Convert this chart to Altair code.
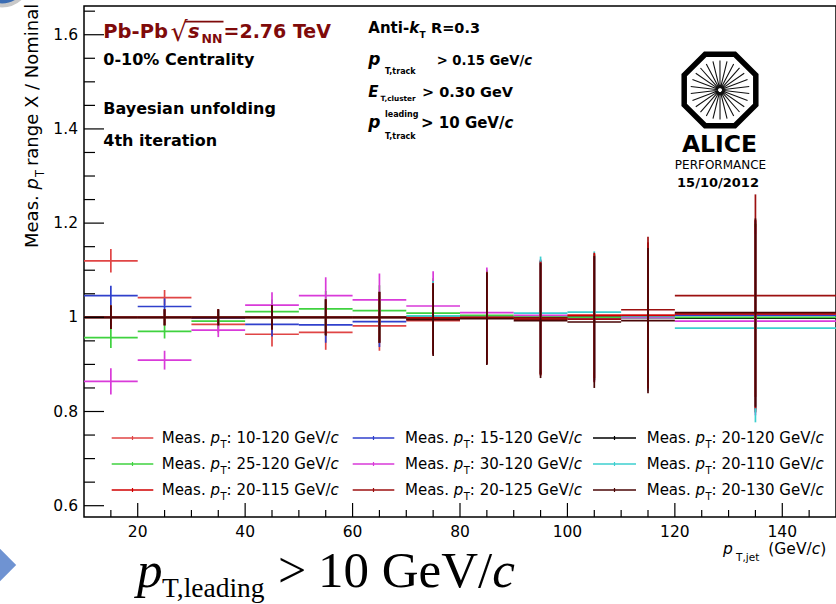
import math
import altair as alt
import pandas as pd

# ---------------- data ----------------
bin_centers = [15, 25, 35, 45, 55, 65, 75, 85, 95, 105, 115, 135]
bin_half_widths = [5, 5, 5, 5, 5, 5, 5, 5, 5, 5, 5, 15]

series_labels = ["10-120", "15-120", "20-120", "25-120", "30-120",
                 "20-110", "20-115", "20-125", "20-130"]
series_colors = ["#e04545", "#3040cc", "#000000", "#3fd23f", "#d93ad9",
                 "#3ccfcf", "#d00000", "#9c1010", "#4a0606"]

ratio_10_120 = [1.120, 1.042, 0.985, 0.964, 0.968, 0.982, 0.993, 0.998, 0.998, 1.004, 1.004, 1.007]
ratio_15_120 = [1.046, 1.023, 0.998, 0.985, 0.984, 0.991, 0.996, 0.998, 1.000, 1.000, 1.000, 1.004]
ratio_20_120 = [1.000, 1.000, 1.000, 1.000, 1.000, 1.000, 1.000, 1.000, 1.000, 1.000, 1.000, 0.998]
ratio_25_120 = [0.957, 0.970, 0.992, 1.012, 1.018, 1.014, 1.009, 1.004, 1.002, 1.000, 1.000, 1.000]
ratio_30_120 = [0.864, 0.909, 0.973, 1.026, 1.046, 1.037, 1.024, 1.010, 1.004, 0.996, 1.000, 0.992]
ratio_20_110 = [1.000, 1.000, 1.000, 1.000, 1.000, 1.000, 1.003, 1.000, 1.009, 1.011, 1.002, 0.977]
ratio_20_115 = [1.000, 1.000, 1.000, 1.000, 1.000, 1.000, 0.999, 1.000, 0.998, 1.004, 1.004, 1.007]
ratio_20_125 = [1.000, 1.000, 1.000, 1.000, 1.000, 1.000, 0.997, 0.998, 0.996, 0.996, 1.016, 1.046]
ratio_20_130 = [1.000, 1.000, 1.000, 1.000, 1.000, 1.000, 0.995, 0.997, 0.993, 0.990, 0.993, 1.010]

err_10_120 = [0.025, 0.016, 0.017, 0.026, 0.037, 0.053, 0.073, 0.097, 0.120, 0.133, 0.155, 0.200]
err_15_120 = [0.021, 0.017, 0.017, 0.026, 0.038, 0.054, 0.074, 0.097, 0.120, 0.133, 0.155, 0.200]
err_20_120 = [0.025, 0.017, 0.017, 0.026, 0.039, 0.054, 0.074, 0.097, 0.120, 0.134, 0.155, 0.200]
err_25_120 = [0.022, 0.015, 0.016, 0.026, 0.038, 0.054, 0.074, 0.097, 0.120, 0.133, 0.155, 0.200]
err_30_120 = [0.028, 0.020, 0.015, 0.027, 0.039, 0.056, 0.074, 0.096, 0.119, 0.133, 0.155, 0.200]
err_20_110 = [0.025, 0.017, 0.017, 0.026, 0.038, 0.054, 0.074, 0.097, 0.120, 0.129, 0.155, 0.200]
err_20_115 = [0.025, 0.017, 0.017, 0.026, 0.038, 0.054, 0.074, 0.097, 0.120, 0.133, 0.155, 0.200]
err_20_125 = [0.025, 0.017, 0.017, 0.026, 0.038, 0.054, 0.075, 0.097, 0.120, 0.134, 0.155, 0.215]
err_20_130 = [0.025, 0.017, 0.017, 0.026, 0.038, 0.054, 0.077, 0.098, 0.122, 0.140, 0.154, 0.200]

ratios = [ratio_10_120, ratio_15_120, ratio_20_120, ratio_25_120, ratio_30_120,
          ratio_20_110, ratio_20_115, ratio_20_125, ratio_20_130]
errors = [err_10_120, err_15_120, err_20_120, err_25_120, err_30_120,
          err_20_110, err_20_115, err_20_125, err_20_130]

x_tick_labels = [20, 40, 60, 80, 100, 120, 140]
y_tick_labels = [0.6, 0.8, 1.0, 1.2, 1.4, 1.6]

# ---------------- layout constants ----------------
LEFT, TOP = 84, 6
W, H = 752, 511
X_DOM = [10, 150]
Y_DOM = [0.576, 1.661]
FONT = "DejaVu Sans"

# ---------------- error-bar table ----------------
rows = []
order = 0
for name, vals, errs in zip(series_labels, ratios, errors):
    for c, hw, v, e in zip(bin_centers, bin_half_widths, vals, errs):
        rows.append(dict(series=name, x=c - hw, x2=c + hw, y=v, y2=v, ord=order)); order += 1
        rows.append(dict(series=name, x=c, x2=c, y=v - e, y2=v + e, ord=order)); order += 1
df = pd.DataFrame(rows)

xscale = alt.Scale(domain=X_DOM, nice=False, zero=False)
yscale = alt.Scale(domain=Y_DOM, nice=False, zero=False)

bars = alt.Chart(df).mark_rule(strokeWidth=1.7).encode(
    x=alt.X("x:Q", scale=xscale, axis=None),
    x2="x2:Q",
    y=alt.Y("y:Q", scale=yscale, axis=None),
    y2="y2:Q",
    color=alt.Color("series:N", scale=alt.Scale(domain=series_labels, range=series_colors), legend=None),
    order=alt.Order("ord:Q"),
)

# ---------------- inward ticks and tick labels ----------------
y_minor = [round(0.6 + 0.05 * i, 2) for i in range(22) if i % 4 != 0]
x_minor = [15 + 5 * i for i in range(27) if (15 + 5 * i) % 20 != 0]
ytm = alt.Chart(pd.DataFrame({"v": y_tick_labels})).mark_rule(color="black", strokeWidth=1.2).encode(
    x=alt.value(0), x2=alt.value(20), y=alt.Y("v:Q", axis=None))
ytn = alt.Chart(pd.DataFrame({"v": y_minor})).mark_rule(color="black", strokeWidth=1.2).encode(
    x=alt.value(0), x2=alt.value(11), y=alt.Y("v:Q", axis=None))
xtm = alt.Chart(pd.DataFrame({"v": x_tick_labels})).mark_rule(color="black", strokeWidth=1.2).encode(
    y=alt.value(H), y2=alt.value(H - 14), x=alt.X("v:Q", axis=None))
xtn = alt.Chart(pd.DataFrame({"v": x_minor})).mark_rule(color="black", strokeWidth=1.2).encode(
    y=alt.value(H), y2=alt.value(H - 7), x=alt.X("v:Q", axis=None))

ylab_df = pd.DataFrame({"v": y_tick_labels, "lab": ["{:g}".format(v) for v in y_tick_labels]})
xlab_df = pd.DataFrame({"v": x_tick_labels, "lab": [str(v) for v in x_tick_labels]})
ylabs = alt.Chart(ylab_df).mark_text(align="right", baseline="middle", font=FONT, fontSize=15.5,
                                     color="black").encode(
    x=alt.value(-6), y=alt.Y("v:Q", axis=None), text="lab:N")
xlabs = alt.Chart(xlab_df).mark_text(align="center", baseline="alphabetic", font=FONT, fontSize=15.5,
                                     color="black").encode(
    y=alt.value(H + 19.5), x=alt.X("v:Q", axis=None), text="lab:N")

# ---------------- text helpers ----------------
W_REG = {' ': .318, '%': .950, '(': .390, ')': .390, ',': .318, '-': .361, '.': .318, '/': .337,
         ':': .337, '=': .838, '>': .838, 'A': .684, 'C': .698, 'E': .632, 'F': .575, 'G': .775,
         'I': .295, 'L': .557, 'M': .863, 'N': .748, 'O': .787, 'P': .603, 'R': .695, 'T': .611,
         'V': .684, 'X': .685, 'a': .613, 'b': .635, 'c': .550, 'd': .635, 'e': .615, 'f': .352,
         'g': .635, 'h': .634, 'i': .278, 'j': .278, 'k': .579, 'l': .278, 'm': .974, 'n': .634,
         'o': .612, 'p': .635, 'r': .411, 's': .521, 't': .392, 'u': .634, 'y': .592}
W_BOLD = {' ': .348, '%': 1.002, '-': .415, '.': .380, '/': .365, ':': .400, '=': .838, '>': .838,
          ',': .380, 'A': .774, 'B': .762, 'C': .734, 'E': .683, 'G': .821, 'N': .837, 'P': .733,
          'R': .770, 'T': .682, 'V': .774, 'a': .675, 'b': .716, 'c': .593, 'd': .716, 'e': .678,
          'f': .435, 'g': .716, 'h': .712, 'i': .343, 'k': .665, 'l': .343, 'n': .712, 'o': .687,
          'r': .493, 's': .595, 't': .478, 'u': .712, 'y': .652}
for d in "0123456789":
    W_REG[d] = .636
    W_BOLD[d] = .696


def tw(s, size, bold=False):
    tbl = W_BOLD if bold else W_REG
    return sum(tbl.get(ch, 0.6) for ch in s) * size


segs = []


def add(x, y, t, size, bold=False, italic=False, color="#000000", font=FONT, angle=0, align="left"):
    segs.append(dict(px=x - LEFT, py=y - TOP, t=t, size=size, fw="bold" if bold else "normal",
                     fs="italic" if italic else "normal", col=color, font=font, ang=angle, al=align))


prules = []


def prule(x1, y1, x2, y2, col="#000000", sw=1.5):
    prules.append(dict(x1=x1 - LEFT, y1=y1 - TOP, x2=x2 - LEFT, y2=y2 - TOP, col=col, sw=sw))


# ---- left annotation block ----
DR = "#7f0a0a"
add(103.3, 37.7, "Pb-Pb", 19.5, bold=True, color=DR)
add(170.5, 41.0, "\u221a", 27, color=DR)
prule(185.0, 21.6, 223.5, 21.6, DR, 1.6)
add(188.0, 37.7, "s", 19.5, bold=True, italic=True, color=DR)
add(201.5, 43.0, "NN", 12.5, bold=True, color=DR)
add(223.5, 37.7, "=2.76 TeV", 19, bold=True, color=DR)
add(103.3, 65.0, "0-10% Centrality", 16, bold=True)
add(103.3, 114.3, "Bayesian unfolding", 16, bold=True)
add(103.3, 146.0, "4th iteration", 16, bold=True)

# ---- right annotation block ----
add(368.3, 33.3, "Anti-", 15, bold=True)
add(368.3 + tw("Anti-", 15, True), 33.3, "k", 15, bold=True, italic=True)
add(368.3 + tw("Anti-", 15, True) + tw("k", 15, True) + 0.5, 38.3, "T", 9, bold=True)
add(431.0, 33.3, "R=0.3", 14.5, bold=True)

add(368.3, 65.0, "p", 17, bold=True, italic=True)
add(385.0, 74.0, "T,track", 8, bold=True)
add(436.7, 65.0, "> 0.15 GeV/", 13.2, bold=True)
add(436.7 + tw("> 0.15 GeV/", 13.2, True), 65.0, "c", 13.2, bold=True, italic=True)

add(368.3, 96.7, "E", 15, bold=True, italic=True)
add(380.5, 100.5, "T,cluster", 7.3, bold=True)
add(422.0, 96.7, "> 0.30 GeV", 14.5, bold=True)

add(368.3, 128.3, "p", 17, bold=True, italic=True)
add(385.0, 117.0, "leading", 8, bold=True)
add(385.0, 139.3, "T,track", 8, bold=True)
add(421.0, 128.3, "> 10 GeV/", 15, bold=True)
add(421.0 + tw("> 10 GeV/", 15, True), 128.3, "c", 15, bold=True, italic=True)

# ---- ALICE logo text ----
add(719.5, 151.7, "ALICE", 23.5, bold=True, align="center")
add(720.5, 168.5, "PERFORMANCE", 12, align="center")
add(718.0, 186.7, "15/10/2012", 13, bold=True, align="center")

# ---- legend (3 x 3) ----
leg_rows_y = [438.0, 464.0, 490.0]
leg_line_x = [(111.7, 153.3), (352.7, 394.3), (593.0, 636.0)]
leg_text_x = [161.7, 405.0, 646.7]
LS = 15
for i, (name, col) in enumerate(zip(series_labels, series_colors)):
    r, c = divmod(i, 3)
    ly = leg_rows_y[r]
    x1, x2 = leg_line_x[c]
    prule(x1, ly, x2, ly, col, 1.5)
    prule((x1 + x2) / 2, ly - 2, (x1 + x2) / 2, ly + 2, col, 1.2)
    bx = leg_text_x[c]
    by = ly + 5
    add(bx, by, "Meas. ", LS)
    bx += tw("Meas. ", LS)
    add(bx, by, "p", LS, italic=True)
    bx += tw("p", LS) + 0.5
    add(bx, by + 5, "T", 10)
    bx += tw("T", 10)
    add(bx, by, ": " + name + " GeV/", LS)
    bx += tw(": " + name + " GeV/", LS)
    add(bx, by, "c", LS, italic=True)

# ---- x axis title ----
add(723.0, 554.0, "p", 15.5, italic=True)
add(736.0, 561.0, "T,jet", 10.5)
add(768.3, 554.0, "(GeV/", 15.5)
add(768.3 + tw("(GeV/", 15.5), 554.0, "c", 15.5, italic=True)
add(768.3 + tw("(GeV/", 15.5) + tw("c", 15.5), 554.0, ")", 15.5)

# ---- y axis title (rotated) ----
YS = 18
ty = 248.0
add(38.0, ty, "Meas. ", YS, angle=270)
ty -= tw("Meas. ", YS)
add(38.0, ty, "p", YS, italic=True, angle=270)
ty -= tw("p", YS) + 1.0
add(43.5, ty, "T", 11.5, angle=270)
ty -= tw("T", 11.5) + 4
add(38.0, ty, "range X / Nominal", YS, angle=270)

# ---- big serif label below ----
SER = "Liberation Serif"
add(137.0, 587.0, "p", 51, italic=True, font=SER)
add(162.0, 597.0, "T,leading", 27.5, font=SER)
add(278.0, 587.0, ">", 50, font=SER)
add(318.0, 587.0, "10 GeV/", 51, font=SER)
add(318.0 + 3.416 * 51, 587.0, "c", 51, italic=True, font=SER)

segdf = pd.DataFrame(segs)
text_layers = []
for (font, fw, fs, al), g in segdf.groupby(["font", "fw", "fs", "al"]):
    text_layers.append(
        alt.Chart(g.reset_index(drop=True)).mark_text(
            align=al, baseline="alphabetic", font=font, fontWeight=fw, fontStyle=fs
        ).encode(
            x=alt.X("px:Q", scale=None, axis=None),
            y=alt.Y("py:Q", scale=None, axis=None),
            text="t:N",
            size=alt.Size("size:Q", scale=None, legend=None),
            color=alt.Color("col:N", scale=None, legend=None),
            angle=alt.Angle("ang:Q", scale=None, legend=None),
        )
    )

rule_layer = alt.Chart(pd.DataFrame(prules)).mark_rule().encode(
    x=alt.X("x1:Q", scale=None, axis=None), x2="x2:Q",
    y=alt.Y("y1:Q", scale=None, axis=None), y2="y2:Q",
    color=alt.Color("col:N", scale=None, legend=None),
    strokeWidth=alt.StrokeWidth("sw:Q", scale=None, legend=None),
)

# ---- ALICE logo shapes ----
c22, s22 = math.cos(math.pi / 8), math.sin(math.pi / 8)
oct_path = ("M {a},{b} L {c},{b} L {d},{e} L {d},{f} L {c},{g} L {a},{g} L {h},{f} L {h},{e} Z"
            .format(a=-s22, b=-c22, c=s22, d=c22, e=-s22, f=s22, g=c22, h=-c22))
spk = []
for k in range(26):
    th = 2 * math.pi * k / 26 + 0.12
    spk.append("M {:.3f},{:.3f} L {:.3f},{:.3f}".format(0.05 * math.cos(th), 0.05 * math.sin(th),
                                                      0.76 * math.cos(th), 0.76 * math.sin(th)))
spoke_path = " ".join(spk)
logo_pos = pd.DataFrame({"px": [720 - LEFT], "py": [90 - TOP]})
logo_oct = alt.Chart(logo_pos).mark_point(shape=oct_path, size=6006, filled=False, stroke="black",
                                          strokeWidth=5.5, opacity=1).encode(
    x=alt.X("px:Q", scale=None, axis=None), y=alt.Y("py:Q", scale=None, axis=None))
logo_spk = alt.Chart(logo_pos).mark_point(shape=spoke_path, size=6006, filled=False, stroke="#111111",
                                          strokeWidth=1.1, opacity=1).encode(
    x=alt.X("px:Q", scale=None, axis=None), y=alt.Y("py:Q", scale=None, axis=None))

# ---- slide decorations (blue corner marks) ----
deco_circle = alt.Chart(pd.DataFrame({"px": [2 - LEFT], "py": [-22 - TOP]})).mark_point(
    shape="circle", size=3000, filled=True, fill="#3b6db3", stroke="#c8c8c8", strokeWidth=4, opacity=1
).encode(x=alt.X("px:Q", scale=None, axis=None), y=alt.Y("py:Q", scale=None, axis=None))
deco_arrow = alt.Chart(pd.DataFrame({"px": [0 - LEFT], "py": [565 - TOP]})).mark_point(
    shape="M -0.5,-1 L 0.5,0 L -0.5,1 Z", size=4200, filled=True, fill="#6f93d2", opacity=1
).encode(x=alt.X("px:Q", scale=None, axis=None), y=alt.Y("py:Q", scale=None, axis=None))

chart = alt.layer(
    bars, ytm, ytn, xtm, xtn, ylabs, xlabs, rule_layer, logo_oct, logo_spk,
    deco_circle, deco_arrow, *text_layers
).properties(
    width=W, height=H,
    autosize=alt.AutoSizeParams(type="none"),
    padding={"left": LEFT, "top": TOP, "right": 0, "bottom": 604 - TOP - H},
    background="white",
).configure_view(stroke="black", strokeWidth=1.5)

chart.save("out.html", embed_options={"renderer": "svg", "actions": False})
